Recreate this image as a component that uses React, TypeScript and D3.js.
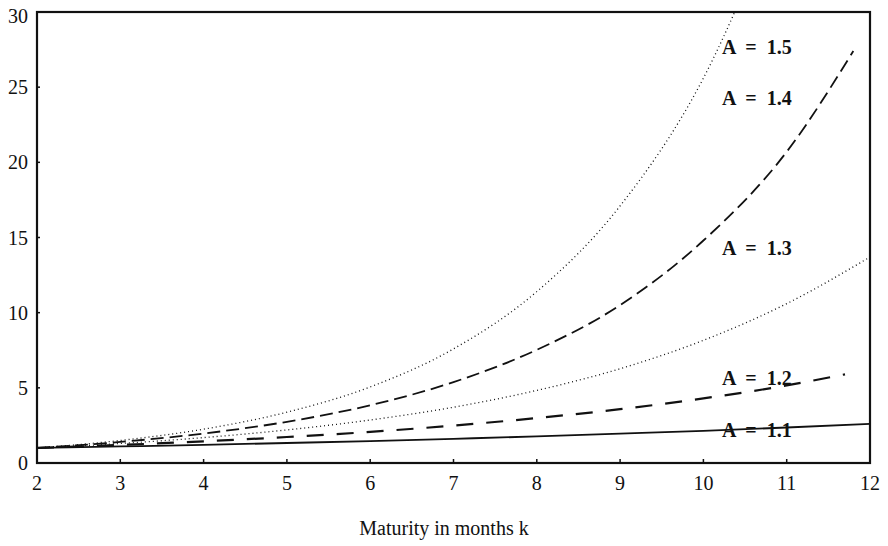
import React from 'react';
import * as d3 from 'd3';

const kFull = [2, 3, 4, 5, 6, 7, 8, 9, 10, 11, 12];
const kTo11 = [2, 3, 4, 5, 6, 7, 8, 9, 10, 11];

const a11 = [1, 1.1, 1.21, 1.33, 1.46, 1.61, 1.77, 1.95, 2.14, 2.36, 2.6];
const a12 = [1, 1.2, 1.44, 1.73, 2.07, 2.49, 2.99, 3.58, 4.3, 5.16, 5.9];
const a12k = [2, 3, 4, 5, 6, 7, 8, 9, 10, 11, 11.7];
const a13 = [1, 1.3, 1.69, 2.2, 2.86, 3.71, 4.83, 6.27, 8.16, 10.6, 13.7];
const a14 = [1, 1.4, 1.96, 2.74, 3.84, 5.38, 7.53, 10.5, 14.8, 20.7, 27.4];
const a14k = [2, 3, 4, 5, 6, 7, 8, 9, 10, 11, 11.8];
const a15 = [1, 1.5, 2.25, 3.38, 5.06, 7.59, 11.4, 17.1, 25.6, 38.4];

const xTicks = [2, 3, 4, 5, 6, 7, 8, 9, 10, 11, 12];
const yTicks = [0, 5, 10, 15, 20, 25, 30];

const series = [
  { name: 'A = 1.1', ks: kFull, vals: a11, dash: null, width: 1.8, labelY: 2.2 },
  { name: 'A = 1.2', ks: a12k, vals: a12, dash: '17 13', width: 2.2, labelY: 5.65 },
  { name: 'A = 1.3', ks: kFull, vals: a13, dash: '1 3', width: 1.3, labelY: 14.3 },
  { name: 'A = 1.4', ks: a14k, vals: a14, dash: '13 6', width: 1.8, labelY: 24.3 },
  { name: 'A = 1.5', ks: kTo11, vals: a15, dash: '1 3', width: 1.3, labelY: 27.7 },
];

const W = 888;
const H = 546;
const m = { left: 37, right: 18, top: 12, bottom: 83 };

export default function App() {
  const x = d3.scaleLinear().domain([2, 12]).range([m.left, W - m.right]);
  const y = d3.scaleLinear().domain([0, 30]).range([H - m.bottom, m.top]);

  const line = d3.line<[number, number]>()
    .x(d => x(d[0]))
    .y(d => y(d[1]))
    .curve(d3.curveMonotoneX);

  const font = '"Liberation Serif", "Times New Roman", serif';

  return (
    <svg width={W} height={H} style={{ position: 'absolute', left: 0, top: 0, background: '#fff' }}>
      <defs>
        <clipPath id="plot">
          <rect x={m.left} y={m.top} width={W - m.left - m.right} height={H - m.top - m.bottom} />
        </clipPath>
      </defs>

      <g clipPath="url(#plot)">
        {series.map(s => (
          <path
            key={s.name}
            d={line(s.ks.map((k, i) => [k, s.vals[i]] as [number, number])) || ''}
            fill="none"
            stroke="#111"
            strokeWidth={s.width}
            strokeDasharray={s.dash || undefined}
            strokeLinecap="butt"
          />
        ))}
      </g>

      {/* frame */}
      <rect
        x={m.left}
        y={m.top}
        width={W - m.left - m.right}
        height={H - m.top - m.bottom}
        fill="none"
        stroke="#111"
        strokeWidth={2.2}
      />

      {/* inward ticks */}
      {xTicks.slice(1, -1).map(t => (
        <line key={'xt' + t} x1={x(t)} x2={x(t)} y1={y(0)} y2={y(0) - 4} stroke="#111" strokeWidth={1.5} />
      ))}
      {yTicks.slice(1, -1).map(t => (
        <line key={'yt' + t} x1={m.left} x2={m.left + 3} y1={y(t)} y2={y(t)} stroke="#111" strokeWidth={1.5} />
      ))}

      {xTicks.map(t => (
        <text key={'xl' + t} x={x(t)} y={490} textAnchor="middle" fontFamily={font} fontSize={20} fill="#111">
          {t}
        </text>
      ))}
      {yTicks.map(t => (
        <text
          key={'yl' + t}
          x={28}
          y={t === 30 ? y(t) + 4 : y(t)}
          dy="0.35em"
          textAnchor="end"
          fontFamily={font}
          fontSize={20}
          fill="#111"
        >
          {t}
        </text>
      ))}

      {series.map(s => (
        <text
          key={'lab' + s.name}
          x={722}
          y={y(s.labelY)}
          dy="0.35em"
          fontFamily={font}
          fontSize={20}
          fontWeight="bold"
          wordSpacing={5}
          fill="#111"
        >
          {s.name}
        </text>
      ))}

      <text x={444} y={535} textAnchor="middle" fontFamily={font} fontSize={20} fill="#111">
        Maturity in months k
      </text>
    </svg>
  );
}
